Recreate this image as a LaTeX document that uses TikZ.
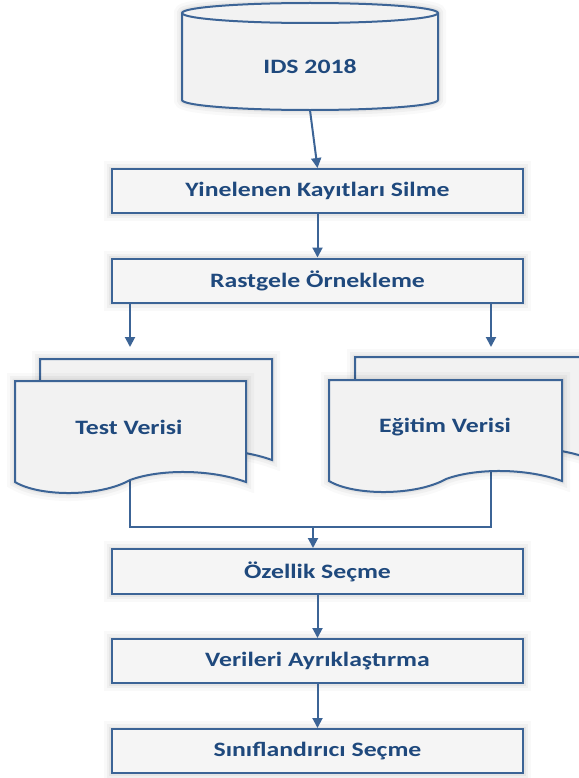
\documentclass[tikz,border=0pt]{standalone}
\usepackage{fontspec}
\newfontfamily\lab{Carlito}[FakeStretch=1.26]
\usetikzlibrary{arrows.meta}
\definecolor{ln}{RGB}{60,100,150}
\definecolor{tx}{RGB}{31,73,125}
\definecolor{fl}{RGB}{242,242,242}
\definecolor{bx}{RGB}{245,245,245}
\begin{document}
\begin{tikzpicture}[x=1bp,y=-1bp,
  wire/.style={draw=ln, line width=2bp},
  arr/.style={wire, -{Triangle[width=10bp,length=10bp]}},
  lbl/.style={font=\lab\bfseries\fontsize{20.5}{24}\selectfont, text=tx, inner sep=0},
  glow/.style={preaction={draw=black, draw opacity=0.025, line width=16bp, fill opacity=0},
               preaction={draw=black, draw opacity=0.035, line width=10bp, fill opacity=0},
               preaction={draw=black, draw opacity=0.045, line width=5bp, fill opacity=0}},
  box/.style={wire, fill=bx, glow, minimum width=411bp, minimum height=44bp, inner sep=0, lbl},
  sheet/.style={wire, fill=fl, glow}]
\useasboundingbox (0,0) rectangle (579,778);
\clip (0,0) rectangle (579,778);
\fill[white] (0,0) rectangle (579,778);

% cylinder
\node[minimum width=256bp, minimum height=107bp, inner sep=0] (db) at (310,56.5) {};
\draw[sheet] (182,13) -- (182,100) arc[start angle=180, end angle=0, x radius=128, y radius=10]
  -- (438,13) arc[start angle=0, end angle=-180, x radius=128, y radius=10] -- cycle;
\draw[wire] (182,13) arc[start angle=180, end angle=0, x radius=128, y radius=10];
\node[lbl] (dbt) at (310,67) {IDS 2018};

% process boxes
\node[box] (b1) at (317.5,191) {Yinelenen Kayıtları Silme};
\node[box] (b2) at (317.5,280.5) {Rastgele Örnekleme};
\node[box, minimum height=45bp] (b3) at (317.5,571.5) {Özellik Seçme};
\node[box] (b4) at (317.5,661) {Verileri Ayrıklaştırma};
\node[box] (b5) at (317.5,751) {Sınıflandırıcı Seçme};

\draw[arr] (db.south) -- (b1.north);
\draw[arr] (b1) -- (b2);

% coordinates for document connectors
\coordinate (ta) at (130,347);
\coordinate (ea) at (491,347);
\coordinate (tb) at (130,478);
\coordinate (eb) at (491,472);
\coordinate (m) at (313,527);

\draw[arr] (b2.south -| ta) -- (ta);
\draw[arr] (b2.south -| ea) -- (ea);
\draw[wire] (tb) |- (m) -| (eb);
\draw[arr] (m) -- (m |- b3.north);
\draw[arr] (b3) -- (b4);
\draw[arr] (b4) -- (b5);

% Test Verisi document stack
\begin{scope}[shift={(40,359)}]
  \draw[sheet] (0,0) -- (232,0) -- (232,101) .. controls (196,88) and (146,88) .. (116,99)
    .. controls (86,116) and (25,116) .. (0,101) -- cycle;
\end{scope}
\begin{scope}[shift={(15,381)}]
  \draw[sheet] (0,0) -- (231,0) -- (231,101) .. controls (195,88) and (145,88) .. (115,99)
    .. controls (85,116) and (25,116) .. (0,101) -- cycle;
\end{scope}
\node[lbl] (test) at (129,427) {Test Verisi};

% Egitim Verisi document stack
\begin{scope}[shift={(355,357)}]
  \draw[sheet] (0,0) -- (233,0) -- (233,101) .. controls (197,88) and (147,88) .. (117,99)
    .. controls (87,116) and (25,116) .. (0,101) -- cycle;
\end{scope}
\begin{scope}[shift={(329,380)}]
  \draw[sheet] (0,0) -- (233,0) -- (233,101) .. controls (197,88) and (147,88) .. (117,99)
    .. controls (87,116) and (25,116) .. (0,101) -- cycle;
\end{scope}
\node[lbl] (egitim) at (445,427) {Eğitim Verisi};
\end{tikzpicture}
\end{document}
